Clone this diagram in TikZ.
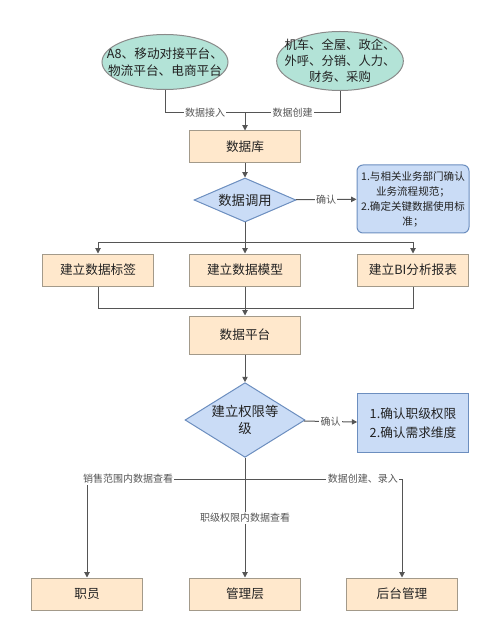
\documentclass[tikz,border=0pt]{standalone}
\usepackage{fontspec}
\setmainfont{Noto Sans CJK SC}
\usetikzlibrary{shapes.geometric,arrows.meta}
\definecolor{boxfill}{HTML}{FFE8CC}
\definecolor{boxdraw}{HTML}{A39A8A}
\definecolor{elfill}{HTML}{B3E3D7}
\definecolor{eldraw}{HTML}{8A8A8A}
\definecolor{bfill}{HTML}{CADCF6}
\definecolor{bdraw}{HTML}{6C8EBF}
\definecolor{lcol}{HTML}{555555}
\definecolor{tcol}{HTML}{222222}
\definecolor{labcol}{HTML}{555555}
\begin{document}
\begin{tikzpicture}[x=0.75pt,y=-0.75pt,
 font=\fontsize{9.5}{12}\selectfont, text=tcol,
 procbox/.style={rectangle,draw=boxdraw,fill=boxfill,line width=0.75pt,minimum width=83pt,minimum height=24pt,inner sep=0pt},
 srcell/.style={ellipse,draw=eldraw,fill=elfill,line width=0.75pt,inner sep=0pt},
 decide/.style={diamond,draw=bdraw,fill=bfill,line width=0.75pt,inner sep=0pt},
 notebox/.style={rectangle,draw=bdraw,fill=bfill,line width=0.75pt,align=center,inner sep=0pt},
 conn/.style={draw=lcol,line width=0.75pt},
 arr/.style={conn,-{Triangle[length=4pt,width=4pt]}},
 lab/.style={fill=white,text=labcol,font=\fontsize{7.5}{9}\selectfont,inner sep=1pt},
 txt/.style={align=center,inner sep=0pt},
]
\useasboundingbox (0,0) rectangle (500,641);
% sources
\node[srcell,minimum width=94.5pt,minimum height=41.25pt] (e1) at (165,62) {};
\node[txt,font=\fontsize{9.5}{12.5}\selectfont] (e1t) at (e1) {A8、移动对接平台、\\物流平台、电商平台};
\node[srcell,minimum width=95pt,minimum height=44.25pt] (e2) at (340,61) {};
\node[txt,font=\fontsize{9.25}{12}\selectfont] (e2t) at (e2) {机车、全屋、政企、\\外呼、分销、人力、\\财务、采购};
\coordinate (j1) at (245,113);
\node[procbox] (db) at (245,147) {数据库};
% first decision
\node[decide,minimum width=76.5pt,minimum height=33pt] (d1) at (245,200) {};
\node[txt,font=\fontsize{10}{12}\selectfont] (d1t) at (d1) {数据调用};
\node[notebox,rounded corners=4.5pt,minimum width=84pt,minimum height=51pt,font=\fontsize{7.9}{11.25}\selectfont] (n1) at (413,199) {1.与相关业务部门确认\\业务流程规范；\\2.确定关键数据使用标\\准；};
\coordinate (j2) at (245,243);
\node[procbox] (b1) at (98,270) {建立数据标签};
\node[procbox] (b2) at (245,270) {建立数据模型};
\node[procbox] (b3) at (413,270) {建立BI分析报表};
\coordinate (j3) at (245,308);
\node[procbox,minimum height=28.5pt] (dp) at (245,335) {数据平台};
% second decision
\node[decide,minimum width=90pt,minimum height=56pt] (d2) at (245,420) {};
\node[txt,font=\fontsize{10}{13}\selectfont] (d2t) at (d2) {建立权限等\\级};
\node[notebox,minimum width=83pt,minimum height=44pt,font=\fontsize{9.5}{14}\selectfont] (n2) at (413,423) {1.确认职级权限\\2.确认需求维度};
\coordinate (j4) at (245,479);
\node[procbox] (m1) at (87,594) {职员};
\node[procbox] (m2) at (245,594) {管理层};
\node[procbox] (m3) at (402,594) {后台管理};
% connectors
\draw[conn] (e1.south) |- (j1) node[lab,pos=0.75] (l1) {数据接入};
\draw[conn] (e2.south) |- (j1) node[lab,pos=0.75] (l2) {数据创建};
\draw[arr] (j1) -- (db);
\draw[arr] (db) -- (d1);
\draw[arr] (d1) -- (n1) node[lab,midway] (l3) {确认};
\draw[arr] (d1) -- (b2);
\draw[arr] (j2) -| (b1);
\draw[arr] (j2) -| (b3);
\draw[conn] (b1) |- (j3);
\draw[conn] (b3) |- (j3);
\draw[arr] (b2) -- (dp);
\draw[arr] (dp) -- (d2);
\draw[arr] (d2) -- (n2) node[lab,midway] (l4) {确认};
\draw[arr] (d2) -- (m2) node[lab,pos=0.5] (l5) {职级权限内数据查看};
\draw[arr] (j4) -| (m1) node[lab,pos=0.37] (l6) {销售范围内数据查看};
\draw[arr] (j4) -| (m3) node[lab,pos=0.375] (l7) {数据创建、录入};
\end{tikzpicture}
\end{document}
